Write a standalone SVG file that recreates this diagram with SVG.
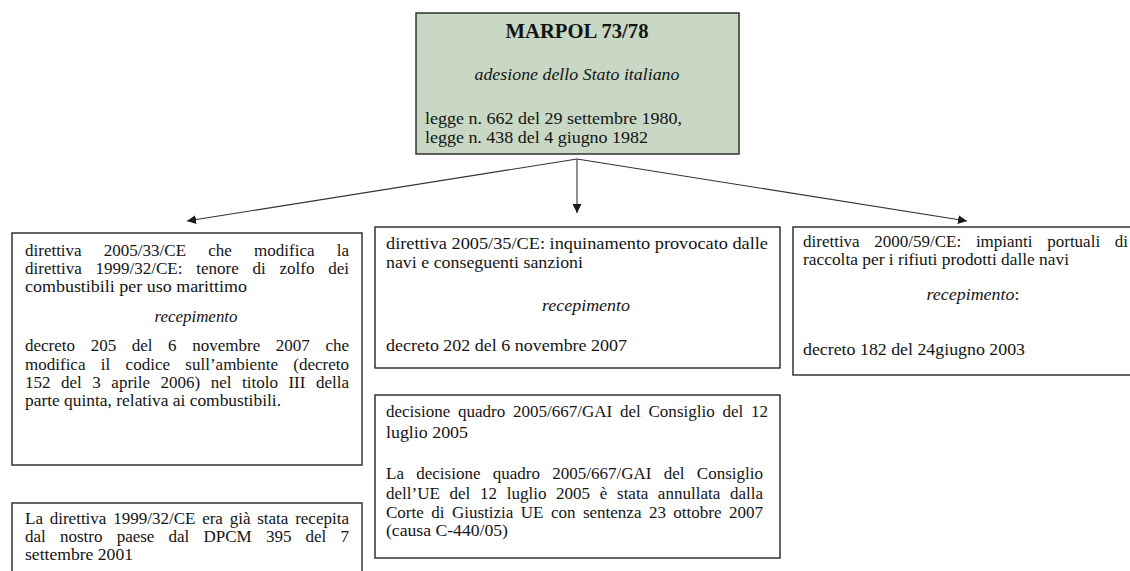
<svg xmlns="http://www.w3.org/2000/svg" width="1130" height="571" viewBox="0 0 1130 571">
<style>
  .box { fill: #ffffff; stroke: #262626; stroke-width: 1.4; }
  .head { fill: #c8d8c4; stroke: #262626; stroke-width: 1.4; }
  text { font-family: "Liberation Serif", "Times New Roman", serif; font-size: 17px; fill: #141414; }
  .b { font-weight: bold; font-size: 20px; }
  .i { font-style: italic; }
  .c { text-anchor: middle; }
  .con { stroke: #333333; stroke-width: 1.1; fill: none; }
</style>
<defs>
  <marker id="arr" viewBox="0 0 10 10" refX="10" refY="5" markerWidth="9" markerHeight="9" markerUnits="userSpaceOnUse" orient="auto">
    <path d="M0,0 L10,5 L0,10 z" fill="#1a1a1a"/>
  </marker>
</defs>
<rect width="1130" height="571" fill="#ffffff"/>

<g id="connectors">
  <line class="con" x1="577" y1="159" x2="187" y2="221" marker-end="url(#arr)"/>
  <line class="con" x1="577" y1="159" x2="577" y2="213" marker-end="url(#arr)"/>
  <line class="con" x1="577" y1="159" x2="967" y2="221" marker-end="url(#arr)"/>
</g>

<g id="marpol">
  <rect class="head" x="416" y="13" width="323" height="141"/>
  <text class="b c" x="577" y="38" textLength="143" lengthAdjust="spacingAndGlyphs">MARPOL 73/78</text>
  <text class="i c" x="577" y="80" textLength="205" lengthAdjust="spacingAndGlyphs">adesione dello Stato italiano</text>
  <text x="425" y="124" textLength="257" lengthAdjust="spacingAndGlyphs">legge n. 662 del 29 settembre 1980,</text>
  <text x="425" y="142.5" textLength="223" lengthAdjust="spacingAndGlyphs">legge n. 438 del 4 giugno 1982</text>
</g>

<g id="dir2005-33">
  <rect class="box" x="12" y="233" width="350" height="232"/>
  <text x="25" y="255.5" word-spacing="18" textLength="324" lengthAdjust="spacingAndGlyphs">direttiva 2005/33/CE che modifica la</text>
  <text x="25" y="274" word-spacing="9.5" textLength="324" lengthAdjust="spacingAndGlyphs">direttiva 1999/32/CE: tenore di zolfo dei</text>
  <text x="25" y="292" textLength="222" lengthAdjust="spacingAndGlyphs">combustibili per uso marittimo</text>
  <text class="i c" x="196" y="322" textLength="83" lengthAdjust="spacingAndGlyphs">recepimento</text>
  <text x="25" y="351" word-spacing="11.3" textLength="324" lengthAdjust="spacingAndGlyphs">decreto 205 del 6 novembre 2007 che</text>
  <text x="25" y="369.5" word-spacing="11.1" textLength="324" lengthAdjust="spacingAndGlyphs">modifica il codice sull’ambiente (decreto</text>
  <text x="25" y="387.5" word-spacing="6.3" textLength="324" lengthAdjust="spacingAndGlyphs">152 del 3 aprile 2006) nel titolo III della</text>
  <text x="25" y="406" textLength="256" lengthAdjust="spacingAndGlyphs">parte quinta, relativa ai combustibili.</text>
</g>

<g id="dir1999-32">
  <rect class="box" x="12" y="503" width="350" height="90"/>
  <text x="25" y="523.5" word-spacing="2.5" textLength="324" lengthAdjust="spacingAndGlyphs">La direttiva 1999/32/CE era già stata recepita</text>
  <text x="25" y="542" word-spacing="9.9" textLength="324" lengthAdjust="spacingAndGlyphs">dal nostro paese dal DPCM 395 del 7</text>
  <text x="25" y="560" textLength="108" lengthAdjust="spacingAndGlyphs">settembre 2001</text>
</g>

<g id="dir2005-35">
  <rect class="box" x="375" y="227" width="405" height="141"/>
  <text x="386" y="248.5" textLength="382" lengthAdjust="spacingAndGlyphs">direttiva 2005/35/CE: inquinamento provocato dalle</text>
  <text x="386" y="267.5" textLength="197" lengthAdjust="spacingAndGlyphs">navi e conseguenti sanzioni</text>
  <text class="i c" x="586" y="310.5" textLength="88" lengthAdjust="spacingAndGlyphs">recepimento</text>
  <text x="386" y="351" textLength="241" lengthAdjust="spacingAndGlyphs">decreto 202 del 6 novembre 2007</text>
</g>

<g id="dec2005-667">
  <rect class="box" x="375" y="395" width="405" height="163"/>
  <text x="386" y="417" word-spacing="3.5" textLength="382" lengthAdjust="spacingAndGlyphs">decisione quadro 2005/667/GAI del Consiglio del 12</text>
  <text x="386" y="437.5" textLength="82" lengthAdjust="spacingAndGlyphs">luglio 2005</text>
  <text x="386" y="478.5" word-spacing="8" textLength="377" lengthAdjust="spacingAndGlyphs">La decisione quadro 2005/667/GAI del Consiglio</text>
  <text x="386" y="498.5" word-spacing="5.4" textLength="377" lengthAdjust="spacingAndGlyphs">dell’UE del 12 luglio 2005 è stata annullata dalla</text>
  <text x="386" y="517.5" word-spacing="3.2" textLength="377" lengthAdjust="spacingAndGlyphs">Corte di Giustizia UE con sentenza 23 ottobre 2007</text>
  <text x="386" y="536" textLength="122" lengthAdjust="spacingAndGlyphs">(causa C-440/05)</text>
</g>

<g id="dir2000-59">
  <rect class="box" x="793" y="227" width="350" height="148"/>
  <text x="803" y="247" word-spacing="10.4" textLength="325" lengthAdjust="spacingAndGlyphs">direttiva 2000/59/CE: impianti portuali di</text>
  <text x="803" y="265" textLength="266" lengthAdjust="spacingAndGlyphs">raccolta per i rifiuti prodotti dalle navi</text>
  <text class="c" x="973" y="300" textLength="93" lengthAdjust="spacingAndGlyphs"><tspan class="i">recepimento</tspan>:</text>
  <text x="803" y="355" textLength="222" lengthAdjust="spacingAndGlyphs">decreto 182 del 24giugno 2003</text>
</g>
</svg>
